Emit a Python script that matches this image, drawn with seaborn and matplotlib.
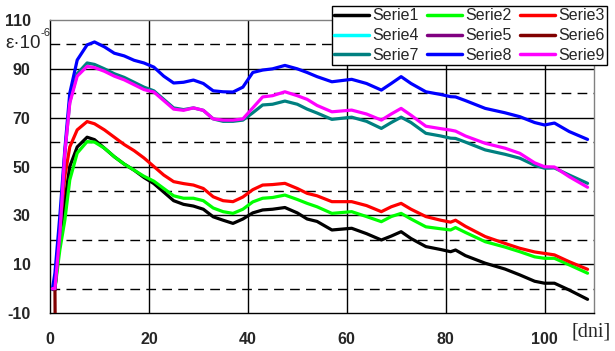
import numpy as np
import pandas as pd
import matplotlib
matplotlib.use("Agg")
import matplotlib.pyplot as plt
import seaborn as sns

# ---------------- data ----------------
days = [0.5, 1, 2, 3, 4, 5.5, 7.5, 9, 11, 13, 15, 17, 19, 21, 23, 25, 27, 29, 31, 33,
        35, 37, 39, 41, 43, 45, 47.5, 50, 52, 54, 57, 61, 64, 67, 69, 71, 73, 76, 79,
        81, 82, 84, 88, 92, 95, 98, 100, 102, 105, 108.7]

serie1 = [0, 0, 20, 36, 50, 58, 62, 61, 57.5, 54, 51, 48.5, 45.5, 43, 39.5, 36, 34.5, 33.8, 32.5, 29.4,
          28, 26.7, 28.5, 31, 32.2, 32.5, 33.2, 31, 28.5, 27.5, 24, 24.7, 22.5, 19.9, 21.5, 23.3, 20.5, 17.2, 16,
          15.1, 15.8, 13.5, 10.4, 8, 5.6, 3, 2.2, 2.2, -0.6, -4.4]
serie2 = [0, 0, 16, 28, 44.5, 55.5, 60.2, 60, 57.5, 54, 51, 48.5, 46, 44, 41, 38, 37, 37, 36, 33,
          31.5, 30.8, 32.5, 35.5, 37, 37.3, 38.3, 36.5, 34.9, 33.5, 30.8, 31.5, 29.5, 27.4, 29.5, 30.8, 28.5, 25.3, 24.5,
          24, 25, 23, 19.2, 17, 15.1, 13, 12.4, 12.4, 9.7, 6.3]
serie3 = [0, 0, 25, 46, 58, 65, 68.4, 67.5, 65, 62, 59, 56.5, 53.5, 50, 46.5, 43.8, 43, 42.4, 41, 37.6,
          36, 35.6, 37.5, 40.5, 42.4, 42.6, 43.1, 41, 39, 38, 35.6, 35.6, 34, 31.5, 33.5, 34.9, 32.5, 29.5, 28,
          27.2, 28, 25.5, 21.3, 18.5, 16.5, 15, 14.4, 13.8, 11, 7.9]
days_456 = [0.5, 1]
serie4 = [0, 0]
serie5 = [0, 0]
days_6 = [1, 1.05]
serie6 = [0, -15]
serie7 = [0, 0, 22.8, 55.5, 76.5, 88, 92.4, 91.8, 90, 88, 86.5, 84.5, 82.5, 81, 77.5, 74, 73.3, 74, 73, 69.5,
          68.5, 68.5, 69, 72, 75.2, 75.5, 76.8, 75.5, 73.5, 71.9, 69.3, 70.2, 68.5, 65.6, 68, 70.2, 68, 63.6, 62.5,
          61.6, 61.5, 60, 56.8, 55, 53.4, 50.5, 49.3, 49.4, 46.5, 43.1]
serie8 = [0, 6.4, 30, 57, 80, 93.6, 99.8, 101, 99, 96.4, 95.3, 93.5, 92.4, 90.7, 87, 84.2, 84.5, 85.4, 84, 81,
          80.6, 80.5, 82.5, 88.5, 89.5, 90, 91.4, 90, 88.5, 86.8, 84.7, 85.7, 84, 81.3, 84, 86.8, 84, 80.6, 79.5,
          78.6, 78.5, 77, 73.8, 72, 70.4, 68, 67, 67.8, 64.3, 61.1]
serie9 = [0, 0, 22.8, 55.5, 76, 87, 91, 90.5, 89, 87, 85.5, 83.5, 81.5, 80.5, 77, 73.5, 73, 74, 73, 69.5,
          69, 69, 69.5, 74, 78.5, 79, 80.6, 79, 77.5, 75, 72.4, 73.1, 71.5, 69, 71.5, 73.8, 71, 66.5, 65.5,
          64.9, 64.5, 62.5, 59.5, 57.5, 55.4, 51.5, 49.9, 49.8, 45.8, 41.5]

series_names = ["Serie1", "Serie2", "Serie3", "Serie4", "Serie5", "Serie6", "Serie7", "Serie8", "Serie9"]
series_x = [days, days, days, days_456, days_456, days_6, days, days, days]
series_y = [serie1, serie2, serie3, serie4, serie5, serie6, serie7, serie8, serie9]
colors = ["#000000", "#00FF00", "#FF0000", "#00FFFF", "#800080", "#800000", "#008080", "#0000FF", "#FF00FF"]

x_ticks = [0, 20, 40, 60, 80, 100]
y_ticks = [-10, 10, 30, 50, 70, 90, 110]
y_dashed = [0, 20, 40, 60, 80, 100]

frames = []
for name, xs, ys in zip(series_names, series_x, series_y):
    frames.append(pd.DataFrame({"day": xs, "value": ys, "series": name}))
df = pd.concat(frames, ignore_index=True)

# ---------------- figure ----------------
sns.set_style("white")
plt.rcParams["font.family"] = ["Liberation Sans", "DejaVu Sans"]

fig = plt.figure(figsize=(6.15, 3.51), dpi=100)
ax = fig.add_axes([50 / 615, 38 / 351, 544 / 615, 293 / 351])

# grid
for xv in x_ticks[1:]:
    ax.axvline(xv, color="black", lw=1, zorder=1)
for yv in y_ticks[1:-1]:
    ax.axhline(yv, color="black", lw=1, zorder=1)
for yv in y_dashed:
    ax.axhline(yv, color="black", lw=1, ls=(0, (7, 4.5)), zorder=1)

sns.lineplot(data=df, x="day", y="value", hue="series", hue_order=series_names,
             palette=dict(zip(series_names, colors)), estimator=None, sort=False,
             lw=2.3, ax=ax, zorder=3)

handles, labels = ax.get_legend_handles_labels()
ax.get_legend().remove()
order = [0, 3, 6, 1, 4, 7, 2, 5, 8]
leg = fig.legend([handles[i] for i in order], [labels[i] for i in order],
                 ncol=3, loc="upper right", bbox_to_anchor=(607 / 615, 1 - 6 / 351),
                 fontsize=11.5, frameon=True, fancybox=False, framealpha=1,
                 edgecolor="black", borderpad=0.15, labelspacing=0.3,
                 handlelength=2.2, handletextpad=0.2, columnspacing=0.5,
                 borderaxespad=0)
leg.get_frame().set_linewidth(1)
for h in leg.get_lines():
    h.set_linewidth(2.5)

ax.set_xlim(0, 110)
ax.set_ylim(-10, 110)
ax.set_xticks(x_ticks)
ax.set_yticks(y_ticks)
ax.set_xticklabels([str(v) for v in x_ticks], fontsize=11.5, fontweight="bold")
ax.set_yticklabels([str(v) for v in y_ticks], fontsize=11.5, fontweight="bold")
ax.tick_params(axis="x", direction="out", length=4, width=1, pad=10, color="black")
ax.tick_params(axis="y", direction="out", length=5, width=1, pad=9, color="black")
ax.set_xlabel("")
ax.set_ylabel("")

for side in ["left", "bottom"]:
    ax.spines[side].set_color("black")
    ax.spines[side].set_linewidth(1)
for side in ["top", "right"]:
    ax.spines[side].set_color("#808080")
    ax.spines[side].set_linewidth(1)
    ax.spines[side].set_visible(True)

fig.text(41 / 615, 1 - 43 / 351, "ε·10", ha="right", va="center", fontsize=13.5)
fig.text(40.5 / 615, 1 - 33 / 351, "-6", ha="left", va="center", fontsize=8)
fig.text(591 / 615, 1 - 332 / 351, "[dni]", ha="center", va="center", fontsize=14.5,
         family=["Liberation Serif", "DejaVu Serif"])

fig.savefig("out.png", dpi=100)
